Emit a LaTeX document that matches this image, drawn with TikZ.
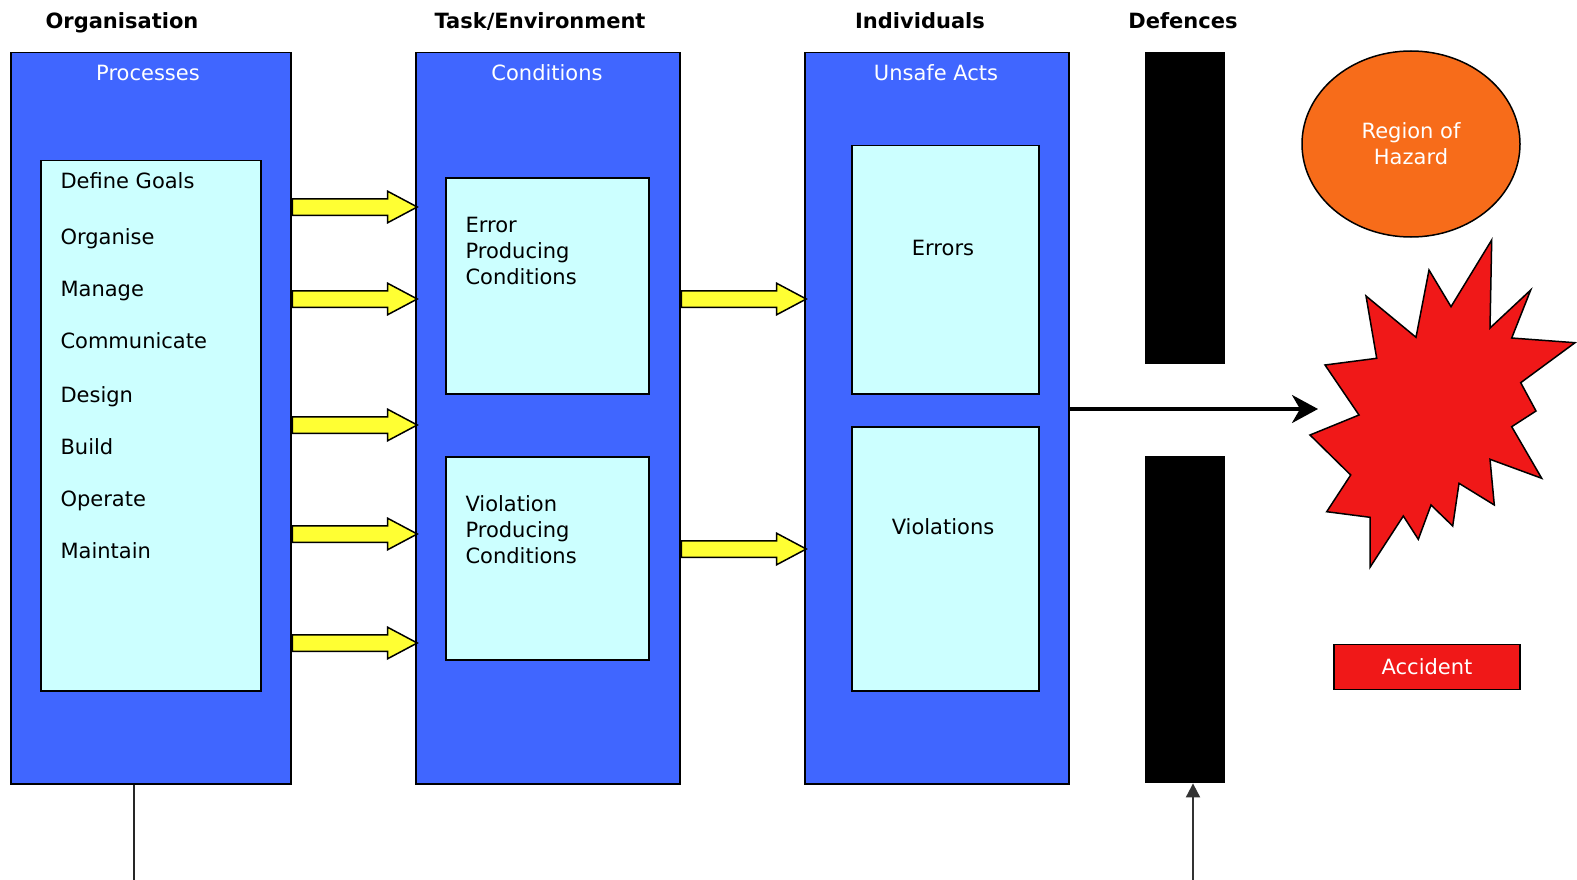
\documentclass[tikz,border=0pt]{standalone}
\usepackage{fontspec}
\setmainfont{DejaVu Sans}
\usetikzlibrary{shapes.geometric,shapes.arrows,arrows.meta}
\definecolor{procblue}{RGB}{64,102,255}
\definecolor{paleblue}{RGB}{204,255,255}
\definecolor{hazardorange}{RGB}{247,108,26}
\definecolor{burstred}{RGB}{240,24,24}
\definecolor{blockyellow}{RGB}{255,255,51}
\begin{document}
\begin{tikzpicture}[x=1pt,y=-1pt,font=\fontsize{21}{26}\selectfont] % модель Ризона
\useasboundingbox (0,0) rectangle (1577,880);
\tikzstyle{bigbox} = [draw, line width=1.5pt, fill=procblue, anchor=north west, inner sep=0pt] % большая синяя колонка
\tikzstyle{subbox} = [draw, line width=1.5pt, fill=paleblue, anchor=north west, inner sep=0pt] % вложенный голубой блок
\tikzstyle{defbar} = [fill=black, anchor=north west, inner sep=0pt, minimum width=80pt] % барьер защиты
\tikzstyle{head} = [font=\fontsize{21}{26}\selectfont\bfseries, anchor=base] % заголовок колонки
\tikzstyle{wtext} = [text=white, anchor=base]
\tikzstyle{yarrow} = [single arrow, draw, line width=1.5pt, fill=blockyellow, anchor=tail, minimum height=125pt, inner sep=7.5pt, single arrow head extend=7.5pt, single arrow tip angle=56] % желтая стрелка
% заголовки
\node[head] (horg) at (122,29) {Organisation};
\node[head] (htask) at (540,29) {Task/Environment};
\node[head] (hind) at (920,29) {Individuals};
\node[head] (hdef) at (1183,29) {Defences};
% колонки
\node[bigbox, minimum width=280pt, minimum height=731pt] (proc) at (10,52) {};
\node[bigbox, minimum width=264pt, minimum height=731pt] (cond) at (415,52) {};
\node[bigbox, minimum width=264pt, minimum height=731pt] (unsafe) at (804,52) {};
\node[wtext] (proct) at (148,81) {Processes};
\node[wtext] (condt) at (547,81) {Conditions};
\node[wtext] (unsafet) at (936,81) {Unsafe Acts};
% процессы
\node[subbox, minimum width=220pt, minimum height=530pt] (items) at (40,160) {};
\foreach \txt/\y [count=\i] in {Define Goals/189, Organise/244, Manage/296, Communicate/348, Design/402, Build/454, Operate/506, Maintain/558}
    \node[anchor=base west] (item\i) at (57,\y) {\txt};
% условия
\node[subbox, minimum width=203pt, minimum height=216pt] (epc) at (445,177) {};
\node[anchor=west, align=left] (epct) at (462,251) {Error\\Producing\\Conditions};
\node[subbox, minimum width=203pt, minimum height=203pt] (vpc) at (445,456) {};
\node[anchor=west, align=left] (vpct) at (462,530) {Violation\\Producing\\Conditions};
% небезопасные действия
\node[subbox, minimum width=187pt, minimum height=248pt] (errors) at (851,145) {};
\node[anchor=base] (errorst) at (943,255) {Errors};
\node[subbox, minimum width=187pt, minimum height=264pt] (viol) at (851,426) {};
\node[anchor=base] (violt) at (943,534) {Violations};
% желтые стрелки
\foreach \y in {207,299,425,534,643}
    \node[yarrow] at (proc.east |- 0,\y) {};
\foreach \y in {299,549}
    \node[yarrow] at (cond.east |- 0,\y) {};
% защиты
\node[defbar, minimum height=312pt] (def1) at (1145,52) {};
\node[defbar, minimum height=327pt] (def2) at (1145,456) {};
% опасность и авария
\node[ellipse, draw, line width=1.5pt, fill=hazardorange, text=white, align=center, minimum width=218pt, minimum height=186pt] (hazard) at (1411,144) {Region of\\Hazard};
\draw[line width=1.5pt, fill=burstred] (1491.7,240) -- (1490,328) -- (1530.7,290) -- (1511.7,338) -- (1575,342.7) -- (1520.7,382.7) -- (1536,411) -- (1511.7,426.7) -- (1541.7,478.3) -- (1490,459.3) -- (1494.3,505) -- (1459,483.3) -- (1452.7,526) -- (1431,505) -- (1418.3,539.3) -- (1403.3,516) -- (1370,567.3) -- (1370,517.3) -- (1326.7,511.7) -- (1350.7,475) -- (1310,435) -- (1359,415) -- (1325,365) -- (1376.7,358.3) -- (1366,296) -- (1416,337.3) -- (1429,270) -- (1451,306.7) -- cycle;
\coordinate (hit) at (1318,409);
\node[draw, line width=1.5pt, fill=burstred, text=white, minimum width=186pt, minimum height=45pt, inner sep=0pt] (accident) at (1427,667) {Accident};
% связи
\draw[line width=3.5pt, -{Stealth[length=26pt, width=28pt, inset=8pt]}] (unsafe.east |- hit) -- (hit);
\coordinate (orgfoot) at (134,880);
\coordinate (deffoot) at (1193,880);
\draw[line width=2pt, draw=black!85] (orgfoot |- proc.south) -- (orgfoot);
\draw[line width=2pt, draw=black!80, -{Triangle[length=14pt, width=14pt]}] (deffoot) -- (deffoot |- def2.south);
\end{tikzpicture}
\end{document}
